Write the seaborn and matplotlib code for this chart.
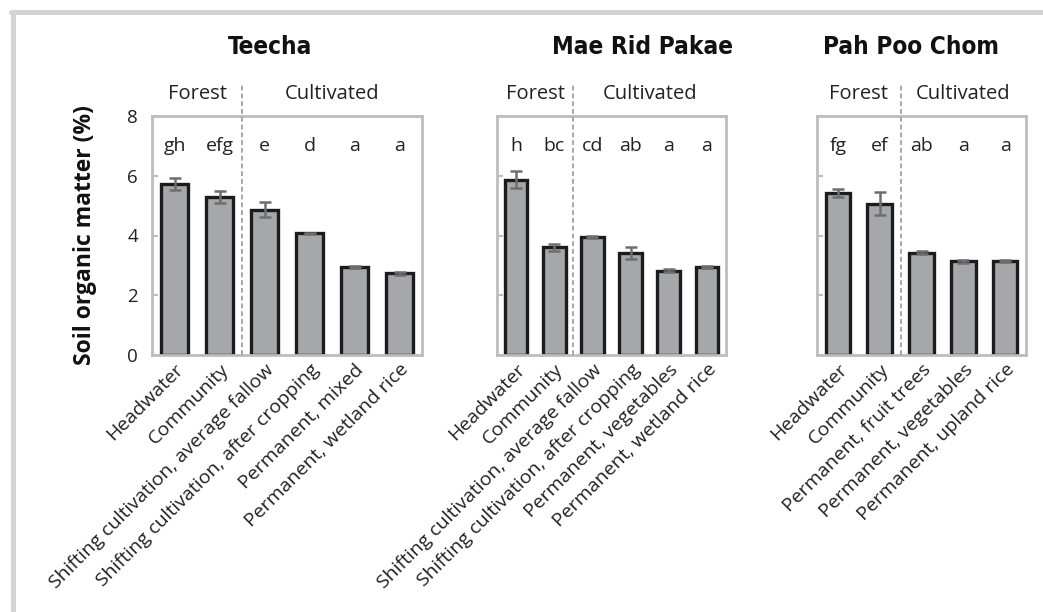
import matplotlib
matplotlib.use("Agg")
import matplotlib.pyplot as plt
import matplotlib.transforms as mtransforms
from matplotlib.lines import Line2D
import pandas as pd
import seaborn as sns

# Valores (matéria orgânica do solo, %)
sitios = ["Teecha", "Mae Rid Pakae", "Pah Poo Chom"]

usos_teecha = ["Headwater", "Community", "Shifting cultivation, average fallow",
               "Shifting cultivation, after cropping", "Permanent, mixed",
               "Permanent, wetland rice"]
media_teecha = [5.72, 5.29, 4.87, 4.07, 2.94, 2.74]
erro_teecha = [0.21, 0.19, 0.25, 0.03, 0.04, 0.05]
letras_teecha = ["gh", "efg", "e", "d", "a", "a"]

usos_mae = ["Headwater", "Community", "Shifting cultivation, average fallow",
            "Shifting cultivation, after cropping", "Permanent, vegetables",
            "Permanent, wetland rice"]
media_mae = [5.87, 3.60, 3.96, 3.40, 2.82, 2.95]
erro_mae = [0.28, 0.13, 0.03, 0.20, 0.05, 0.03]
letras_mae = ["h", "bc", "cd", "ab", "a", "a"]

usos_pah = ["Headwater", "Community", "Permanent, fruit trees",
            "Permanent, vegetables", "Permanent, upland rice"]
media_pah = [5.43, 5.07, 3.43, 3.14, 3.14]
erro_pah = [0.14, 0.40, 0.05, 0.05, 0.03]
letras_pah = ["fg", "ef", "ab", "a", "a"]

grupos = ["Forest", "Cultivated"]
n_floresta = 2

sns.set_theme(style="white")
plt.rcParams['font.family'] = ['Open Sans', 'DejaVu Sans']

W, H = 1043, 612
fig = plt.figure(figsize=(W / 100, H / 100), dpi=100)

# moldura cinza (só topo e esquerda aparecem)
fig.add_artist(Line2D([12.5 / W, 12.5 / W], [0, 1 - 12 / H], color='#d3d3d3',
                      lw=3.6, transform=fig.transFigure))
fig.add_artist(Line2D([10.5 / W, 1], [1 - 12 / H, 1 - 12 / H], color='#d3d3d3',
                      lw=3.6, transform=fig.transFigure))

# posições dos eixos em pixels (esquerda, direita)
caixas = [(152, 422), (497, 726), (817, 1026)]
topo, base = 116, 355
titulo_x = [270, 643, 911]

dados = [(usos_teecha, media_teecha, erro_teecha, letras_teecha),
         (usos_mae, media_mae, erro_mae, letras_mae),
         (usos_pah, media_pah, erro_pah, letras_pah)]

cinza_borda = '#bdbdbd'
for i, (usos, media, erro, letras) in enumerate(dados):
    x0, x1 = caixas[i]
    ax = fig.add_axes([x0 / W, 1 - base / H, (x1 - x0) / W, (base - topo) / H])
    df = pd.DataFrame({'Uso': usos, 'MO': media})
    sns.barplot(data=df, x='Uso', y='MO', order=usos, ax=ax, color='#a6a7aa',
                saturation=1, width=0.59, edgecolor='#1c1c1c', linewidth=2.4,
                errorbar=None)
    ax.errorbar(range(len(usos)), media, yerr=erro, fmt='none', ecolor='#6e6e6e',
                elinewidth=1.8, capsize=4.5, capthick=1.8, zorder=5)
    ax.set_xlim(-0.5, len(usos) - 0.5)
    ax.set_ylim(0, 8)
    ax.set_yticks([0, 2, 4, 6, 8])
    for s in ax.spines.values():
        s.set_color(cinza_borda)
        s.set_linewidth(2)
        s.set_visible(True)
    ax.tick_params(axis='y', direction='in', length=4, width=1.5, color=cinza_borda,
                   left=True, labelsize=13.5, pad=10, labelcolor='#222222')
    ax.tick_params(axis='x', length=0, pad=4, labelsize=14, labelcolor='#222222')
    ax.set_xticks(range(len(usos)))
    ax.set_xticklabels(usos, rotation=45, ha='right', rotation_mode='anchor')
    ax.set_xlabel('')
    if i == 0:
        ax.set_ylabel('Soil organic matter (%)', fontsize=16.5, fontweight='bold',
                      labelpad=22, color='#111111')
    else:
        ax.set_ylabel('')
        ax.set_yticklabels([])

    # letras de significância
    for k, l in enumerate(letras):
        ax.text(k, 7.0, l, ha='center', va='center', fontsize=14, color='#222222')

    # linha tracejada Forest | Cultivated
    trans = mtransforms.blended_transform_factory(ax.transData, ax.transAxes)
    ax.plot([n_floresta - 0.5, n_floresta - 0.5], [0, 1.14], transform=trans,
            ls=(0, (2.5, 1.5)), color='#a8a8a8', lw=1.4, clip_on=False, zorder=6)

    # rótulos dos grupos
    ax.text((n_floresta - 0.5 - 0.5) / 2, 1.09, grupos[0], transform=trans,
            ha='center', va='center', fontsize=14.5, color='#222222')
    ax.text((n_floresta - 0.5 + len(usos) - 0.5) / 2, 1.09, grupos[1], transform=trans,
            ha='center', va='center', fontsize=14.5, color='#222222')

    # título do sítio
    fig.text(titulo_x[i] / W, 1 - 47 / H, sitios[i], ha='center', va='center',
             fontsize=17.5, fontweight='bold', fontstretch='condensed', color='#111111',
             family=['DejaVu Sans'])

fig.savefig('out.png', dpi=100)
